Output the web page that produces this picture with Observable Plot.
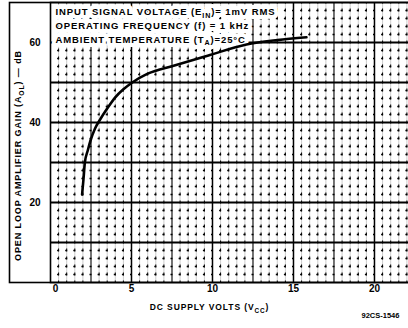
<!DOCTYPE html>
<html>
<head>
<meta charset="utf-8">
<script src="https://cdn.jsdelivr.net/npm/d3@7"></script>
<script src="https://cdn.jsdelivr.net/npm/@observablehq/plot@0.6"></script>
<style>
  html, body { margin: 0; padding: 0; background: #fff; }
  body { width: 408px; height: 328px; overflow: hidden; }
  svg text { font-family: "Liberation Sans", Arial, sans-serif; font-weight: bold; }
  .cond text { letter-spacing: 0.9px; }
  .lab text { letter-spacing: 0.9px; }
</style>
</head>
<body>
<div id="chart"></div>
<script>
// Curve: DC supply volts vs open loop gain (dB)
const supplyVolts = [1.95, 2.04, 2.12, 2.3, 2.47, 2.75, 3.1, 3.5, 4.0, 4.5, 5.05, 6.0, 7.6, 9.7, 12.1, 14.0, 15.8];
const gainDb      = [22, 26, 30, 33, 35.5, 38.5, 41, 43.5, 46.3, 48.3, 50, 52.2, 54.2, 56.7, 59.5, 60.6, 61.3];

const xTickLabels = [5, 10, 15, 20];
const xZeroLabel = [0];
const yTickLabels = [20, 40, 60];
const yMajorGrid = [10, 20, 30, 40, 50, 60];
const xMajorGrid = [5, 10, 15, 20];
const xMidGrid = [2.5, 7.5, 12.5, 17.5];

const conditionsText = [
  "INPUT SIGNAL VOLTAGE (E_{IN})= 1mV RMS\nOPERATING FREQUENCY (f) = 1 kHz\nAMBIENT TEMPERATURE (T_{A})=25°C"
];
const yLabel = ["OPEN LOOP AMPLIFIER GAIN (A_{OL}) — dB"];
const xLabel = ["DC SUPPLY VOLTS (V_{CC})"];
const figCode = ["92CS-1546"];

const curve = supplyVolts.map((v, i) => ({v, g: gainDb[i]}));
const minorV = d3.range(0.5, 22.1, 0.5).filter(v => Math.abs(v / 2.5 - Math.round(v / 2.5)) > 1e-6);
const minorH = d3.range(2, 70, 2).filter(v => v % 10 !== 0);

const condOpts = {
  text: d => d, frameAnchor: "top-left", textAnchor: "start", lineAnchor: "top",
  dx: 5, dy: 3, lineHeight: 1.45, fontSize: 9.5, className: "cond"
};

const chart = Plot.plot({
  width: 408,
  height: 328,
  marginLeft: 50,
  marginRight: 0,
  marginTop: 2,
  marginBottom: 46,
  x: {domain: [0, 22.1]},
  y: {domain: [0, 70]},
  style: {background: "white", color: "black", fontFamily: "Liberation Sans, Arial, sans-serif"},
  marks: [
    Plot.ruleX(minorV, {stroke: "#9a9a9a", strokeWidth: 0.5}),
    Plot.ruleX(minorV, {stroke: "black", strokeWidth: 1, strokeDasharray: "3,5", strokeDashoffset: 1.5}),
    Plot.ruleY(minorH, {stroke: "black", strokeWidth: 1.5, strokeDasharray: "2,6.1", strokeDashoffset: 1}),
    Plot.ruleX(xMidGrid, {stroke: "black", strokeWidth: 1.1}),
    Plot.ruleX(xMajorGrid, {stroke: "black", strokeWidth: 1.5}),
    Plot.ruleY(yMajorGrid, {stroke: "black", strokeWidth: 1.8}),
    // white halo behind the conditions block, then the text itself
    Plot.text(conditionsText, {...condOpts, fill: "white", stroke: "white", strokeWidth: 8}),
    Plot.text(conditionsText, {...condOpts, fill: "black"}),
    Plot.line(curve, {x: "v", y: "g", curve: "monotone-x", stroke: "black", strokeWidth: 2.6}),
    Plot.frame({stroke: "black", strokeWidth: 1.6, insetRight: -5}),
    Plot.frame({stroke: "black", strokeWidth: 1.6, insetLeft: -41, insetRight: -5}),
    Plot.axisX(xTickLabels, {tickSize: 0, tickPadding: 2, fontSize: 10, label: null}),
    Plot.axisX(xZeroLabel, {tickSize: 0, tickPadding: 2, fontSize: 10, label: null, dx: 5}),
    Plot.axisY(yTickLabels, {tickSize: 0, tickPadding: 10, fontSize: 10, label: null}),
    Plot.text(yLabel, {text: d => d, frameAnchor: "left", rotate: -90, textAnchor: "middle",
      dx: -32, dy: 13, fontSize: 9, fill: "black", className: "lab"}),
    Plot.text(xLabel, {text: d => d, frameAnchor: "bottom", textAnchor: "middle", lineAnchor: "middle",
      dx: -20, dy: 25, fontSize: 8.5, fill: "black", className: "cond"}),
    Plot.text(figCode, {text: d => d, frameAnchor: "bottom-right", textAnchor: "start", lineAnchor: "middle",
      dx: -47, dy: 33, fontSize: 7.5, fill: "black"})
  ]
});

// turn _{...} into subscripts
function subscriptify(root) {
  const ns = "http://www.w3.org/2000/svg";
  const nodes = Array.from(root.querySelectorAll("text, tspan"))
    .filter(n => n.children.length === 0 && /_\{[^}]*\}/.test(n.textContent));
  for (const n of nodes) {
    const s = n.textContent;
    n.textContent = "";
    const parts = s.split(/(_\{[^}]*\})/);
    let shifted = false;
    for (const p of parts) {
      if (!p) continue;
      const t = document.createElementNS(ns, "tspan");
      const m = p.match(/^_\{([^}]*)\}$/);
      if (m) {
        t.setAttribute("dy", "2.5");
        t.setAttribute("font-size", "75%");
        t.textContent = m[1];
        shifted = true;
      } else {
        if (shifted) t.setAttribute("dy", "-2.5");
        shifted = false;
        t.textContent = p;
      }
      n.appendChild(t);
    }
  }
}
subscriptify(chart);
document.getElementById("chart").appendChild(chart);
</script>
</body>
</html>
